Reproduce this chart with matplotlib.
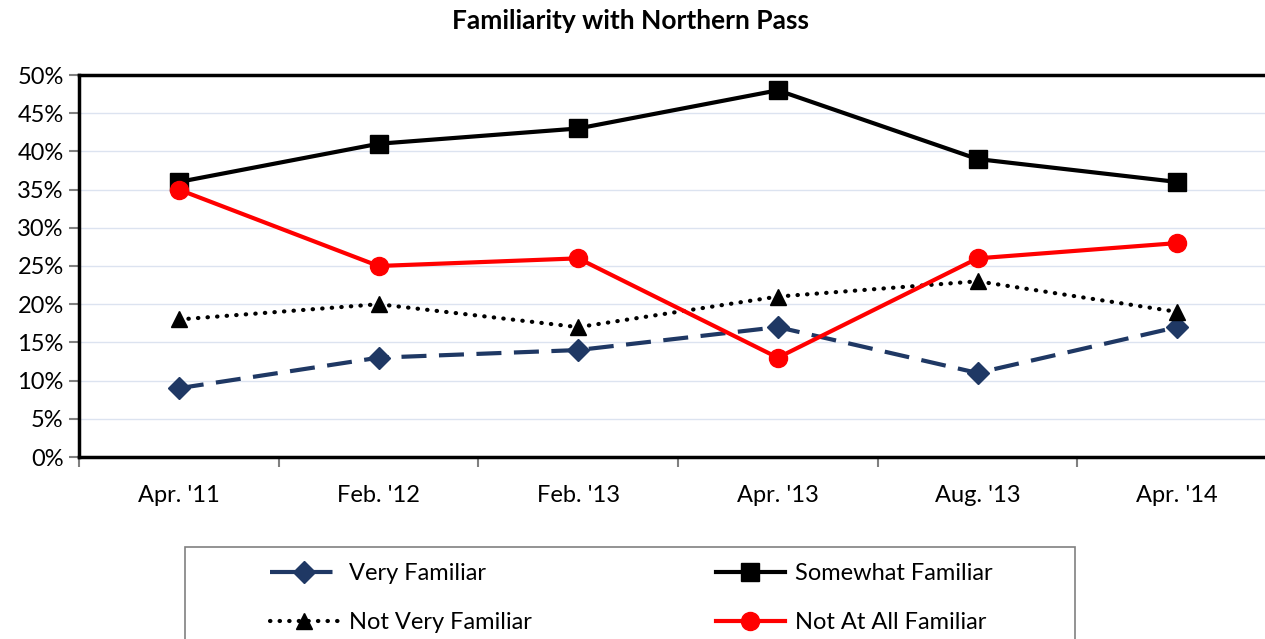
import matplotlib.pyplot as plt
from matplotlib.patches import Rectangle
import numpy as np

plt.rcParams['font.family'] = ['Lato', 'DejaVu Sans']

dates = ["Apr. '11", "Feb. '12", "Feb. '13", "Apr. '13", "Aug. '13", "Apr. '14"]
very = [9, 13, 14, 17, 11, 17]
somewhat = [36, 41, 43, 48, 39, 36]
not_very = [18, 20, 17, 21, 23, 19]
not_at_all = [35, 25, 26, 13, 26, 28]

W, H = 1265, 639
fig = plt.figure(figsize=(W / 100, H / 100), dpi=100)
ax = fig.add_axes([79 / W, 1 - 457 / H, (1277 - 79) / W, (457 - 75) / H])

x = np.arange(len(dates))
navy = '#1F3864'
l1, = ax.plot(x, very, color=navy, lw=3, dashes=(6, 3), marker='D', ms=11,
              label='Very Familiar', zorder=3)
l2, = ax.plot(x, somewhat, color='black', lw=3, marker='s', ms=13,
              label='Somewhat Familiar', zorder=3)
l3, = ax.plot(x, not_very, color='black', lw=3, linestyle=(0, (0.1, 2.2)),
              dash_capstyle='round', marker='^', ms=12,
              label='Not Very Familiar', zorder=3)
l4, = ax.plot(x, not_at_all, color='#FF0000', lw=3, marker='o', ms=13,
              label='Not At All Familiar', zorder=4)

ax.set_xlim(-0.5, 5.5)
ax.set_ylim(0, 50)
ax.set_yticks(np.arange(0, 51, 5))
ax.set_yticklabels([f'{v}%' for v in range(0, 51, 5)], fontsize=17)
ax.set_xticks(x)
ax.set_xticklabels(dates, fontsize=17)
ax.set_xticks(np.arange(-0.5, 6, 1), minor=True)
ax.tick_params(axis='x', which='major', length=0, pad=20)
ax.tick_params(axis='x', which='minor', length=7, width=1.5, color='#808080')
ax.tick_params(axis='y', length=7, width=1.5, color='#808080', pad=4)
ax.grid(axis='y', color='#DCE3F0', lw=1)
ax.set_axisbelow(True)
for s in ['left', 'bottom', 'top']:
    ax.spines[s].set_linewidth(2.5)
ax.spines['right'].set_visible(False)

fig.text(630 / W, 1 - 21 / H, 'Familiarity with Northern Pass', ha='center',
         va='center', fontsize=19, fontweight='bold')

fig.patches.append(Rectangle((185 / W, -0.2), (1075 - 185) / W, 0.2 + 1 - 547 / H,
                             transform=fig.transFigure, fill=False,
                             edgecolor='#808080', lw=1.2))
fig.legend(handles=[l1, l3, l2, l4], ncol=2, loc='upper left',
           bbox_to_anchor=(270 / W, 1 - 563 / H), frameon=False, fontsize=17,
           handlelength=2.9, handletextpad=0.45, columnspacing=7.8,
           labelspacing=1.2, borderaxespad=0, borderpad=0)

fig.savefig('out.png', dpi=100)
